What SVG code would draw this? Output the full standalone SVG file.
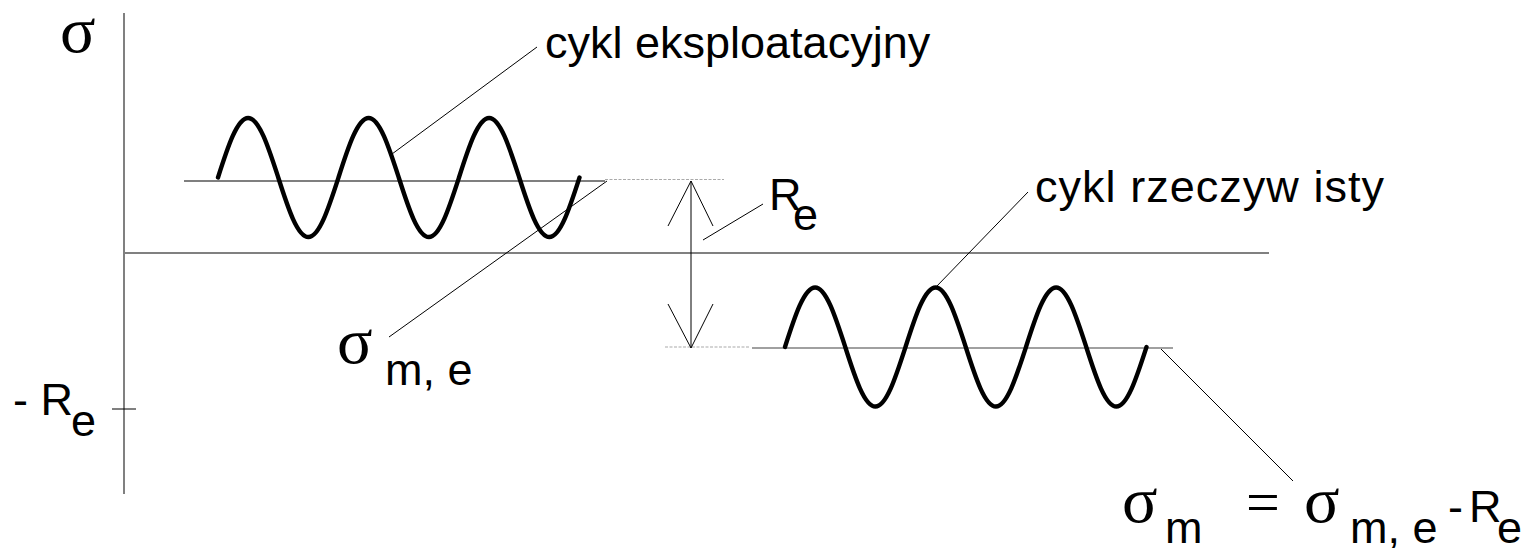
<svg xmlns="http://www.w3.org/2000/svg" width="1536" height="548" viewBox="0 0 1536 548">
<style>
.axis{stroke:#808080;stroke-width:2;fill:none}
.thin{stroke:#000;stroke-width:1;fill:none}
.base{stroke:#000;stroke-width:1.2;fill:none}
.baseg{stroke:#808080;stroke-width:1.6;fill:none}
.dash{stroke:#aaa;stroke-width:1.2;stroke-dasharray:3 1.5;fill:none}
.wave{stroke:#000;stroke-width:4.4;fill:none;stroke-linecap:round;stroke-linejoin:round}
.t{font-family:"Liberation Sans",Arial,sans-serif;font-size:45px;fill:#000}
.s{font-family:"Liberation Serif","Times New Roman",serif;font-size:66px;fill:#000}
.eq{font-family:"Liberation Serif","Times New Roman",serif;font-size:60px;fill:#000}
</style>
<g id="axes">
<line class="axis" x1="124" y1="13" x2="124" y2="494"/>
<line class="axis" x1="124" y1="253" x2="1269" y2="253"/>
<line class="thin" x1="112" y1="409" x2="136" y2="409"/>
</g>
<g id="wave-eksploatacyjny">
<line class="base" x1="184" y1="181" x2="605" y2="181"/>
<path class="wave" d="M218,177.5 c 9.82,-30.8 19.22,-59.5 30.125,-59.5 c 10.9,0 20.3,29.2 30.125,59.5 c 9.82,30.8 19.22,59.5 30.125,59.5 c 10.9,0 20.3,-29.2 30.125,-59.5 c 9.82,-30.8 19.22,-59.5 30.125,-59.5 c 10.9,0 20.3,29.2 30.125,59.5 c 9.82,30.8 19.22,59.5 30.125,59.5 c 10.9,0 20.3,-29.2 30.125,-59.5 c 9.82,-30.8 19.22,-59.5 30.125,-59.5 c 10.9,0 20.3,29.2 30.125,59.5 c 9.82,30.8 19.22,59.5 30.125,59.5 c 10.9,0 20.3,-29.2 30.125,-59.5"/>
</g>
<g id="wave-rzeczywisty">
<line class="baseg" x1="752" y1="348" x2="1173" y2="348"/>
<path class="wave" d="M785,347 c 9.82,-30.8 19.22,-59.5 30.125,-59.5 c 10.9,0 20.3,29.2 30.125,59.5 c 9.82,30.8 19.22,59.5 30.125,59.5 c 10.9,0 20.3,-29.2 30.125,-59.5 c 9.82,-30.8 19.22,-59.5 30.125,-59.5 c 10.9,0 20.3,29.2 30.125,59.5 c 9.82,30.8 19.22,59.5 30.125,59.5 c 10.9,0 20.3,-29.2 30.125,-59.5 c 9.82,-30.8 19.22,-59.5 30.125,-59.5 c 10.9,0 20.3,29.2 30.125,59.5 c 9.82,30.8 19.22,59.5 30.125,59.5 c 10.9,0 20.3,-29.2 30.125,-59.5"/>
</g>
<g id="label-sigma">
<text class="s" x="60" y="52">σ</text>
</g>
<g id="label-cykl-eksploatacyjny">
<text class="t" x="545" y="58">cykl eksploatacyjny</text>
</g>
<g id="label-cykl-rzeczywisty">
<text class="t" x="1035" y="202" textLength="349" lengthAdjust="spacing">cykl rzeczyw isty</text>
</g>
<g id="label-Re">
<text class="t" x="769" y="210">R<tspan x="793" y="230">e</tspan></text>
</g>
<g id="label-minus-Re">
<text class="t" x="13" y="415">- R<tspan x="71" y="436">e</tspan></text>
</g>
<g id="label-sigma-me">
<text class="s" x="337" y="363">σ</text>
<text class="t" x="385" y="385">m, e</text>
</g>
<g id="label-formula">
<text class="s" x="1122" y="522">σ</text>
<text class="t" x="1165" y="543">m</text>
<text class="eq" x="1246" y="522">=</text>
<text class="s" x="1304" y="522">σ</text>
<text class="t" x="1350" y="543">m, e</text>
<text class="t" x="1448" y="522">- <tspan x="1469">R</tspan><tspan x="1497" y="543">e</tspan></text>
</g>
<g id="connectors">
<line class="dash" x1="605" y1="179.5" x2="724" y2="179.5"/>
<line class="dash" x1="665" y1="347" x2="750" y2="347"/>
<line class="thin" x1="691" y1="181" x2="691" y2="348"/>
<polyline class="thin" points="668,226 691,181 713,226"/>
<polyline class="thin" points="668,304 691,348 713,304"/>
<line class="thin" x1="537" y1="47" x2="392" y2="154"/>
<line class="thin" x1="389" y1="337" x2="607" y2="181"/>
<line class="thin" x1="703" y1="240" x2="763" y2="204"/>
<line class="thin" x1="1028" y1="192" x2="936" y2="287"/>
<line class="thin" x1="1161" y1="349" x2="1293" y2="481"/>
</g>
</svg>
